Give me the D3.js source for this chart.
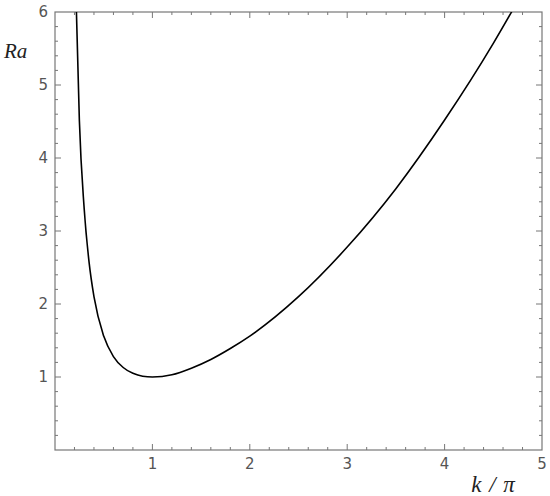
<!DOCTYPE html>
<html>
<head>
<meta charset="utf-8">
<script src="https://cdn.jsdelivr.net/npm/d3@7"></script>
<style>
  body { margin: 0; background: #fff; }
  .tick-label { font-family: "DejaVu Sans", sans-serif; font-size: 15px; fill: #555; }
  .axis-title { font-family: "Liberation Serif", "DejaVu Serif", serif; font-style: italic; font-size: 21px; fill: #222; }
</style>
</head>
<body>
<div id="chart"></div>
<script>
// Values
var kValues  = [0.22, 0.25, 0.3, 0.35, 0.4, 0.5, 0.6, 0.7, 0.8, 0.9, 1.0, 1.2, 1.4, 1.6, 1.8, 2.0, 2.5, 3.0, 3.5, 4.0, 4.5, 4.7];
var raValues = [6.0, 4.52, 3.30, 2.57, 2.10, 1.56, 1.28, 1.13, 1.05, 1.01, 1.0, 1.03, 1.12, 1.24, 1.39, 1.56, 2.10, 2.78, 3.58, 4.52, 5.57, 6.03];
var xTicks = [1, 2, 3, 4, 5];
var yTicks = [1, 2, 3, 4, 5, 6];

var width = 550, height = 496;
var margin = {top: 12, right: 8, bottom: 46, left: 55};

var svg = d3.select("#chart").append("svg")
    .attr("width", width)
    .attr("height", height);

var x = d3.scaleLinear().domain([0, 5]).range([margin.left, width - margin.right]);
var y = d3.scaleLinear().domain([0, 6]).range([height - margin.bottom, margin.top]);

// minor + major ticks, drawn inward on all four sides
var minor = d3.range(0, 30.5).map(function(i) { return i * 0.2; });
var frameColor = "#777";
var ticksG = svg.append("g").attr("stroke", frameColor).attr("stroke-width", 1);

function isMajor(v) { return Math.abs(v - Math.round(v)) < 1e-6; }

minor.filter(function(v) { return v > 0 && v < 5; }).forEach(function(v) {
    var len = isMajor(v) ? 6 : 3;
    ticksG.append("line").attr("x1", x(v)).attr("x2", x(v))
        .attr("y1", y(0)).attr("y2", y(0) - len);
    ticksG.append("line").attr("x1", x(v)).attr("x2", x(v))
        .attr("y1", y(6)).attr("y2", y(6) + len);
});
minor.filter(function(v) { return v > 0 && v < 6; }).forEach(function(v) {
    var len = isMajor(v) ? 6 : 3;
    ticksG.append("line").attr("y1", y(v)).attr("y2", y(v))
        .attr("x1", x(0)).attr("x2", x(0) + len);
    ticksG.append("line").attr("y1", y(v)).attr("y2", y(v))
        .attr("x1", x(5)).attr("x2", x(5) - len);
});

// frame
svg.append("rect")
    .attr("x", x(0)).attr("y", y(6))
    .attr("width", x(5) - x(0)).attr("height", y(0) - y(6))
    .attr("fill", "none").attr("stroke", frameColor).attr("stroke-width", 1.2);

// tick labels
svg.selectAll(".xlab").data(xTicks).enter().append("text")
    .attr("class", "tick-label")
    .attr("x", function(d) { return x(d); })
    .attr("y", y(0) + 19)
    .attr("text-anchor", "middle")
    .text(function(d) { return d; });

svg.selectAll(".ylab").data(yTicks).enter().append("text")
    .attr("class", "tick-label")
    .attr("x", x(0) - 7)
    .attr("y", function(d) { return y(d) + 5; })
    .attr("text-anchor", "end")
    .text(function(d) { return d; });

// axis titles
svg.append("text").attr("class", "axis-title")
    .attr("x", 4).attr("y", 58)
    .text("Ra");

svg.append("text").attr("class", "axis-title")
    .attr("x", 493).attr("y", 492)
    .attr("text-anchor", "middle")
    .style("font-size", "23px")
    .style("word-spacing", "2px")
    .text("k / π");

// curve
svg.append("clipPath").attr("id", "plotclip")
    .append("rect")
    .attr("x", x(0)).attr("y", y(6))
    .attr("width", x(5) - x(0)).attr("height", y(0) - y(6));

var line = d3.line()
    .curve(d3.curveMonotoneX)
    .x(function(d, i) { return x(kValues[i]); })
    .y(function(d) { return y(d); });

svg.append("path")
    .datum(raValues)
    .attr("clip-path", "url(#plotclip)")
    .attr("fill", "none")
    .attr("stroke", "#000")
    .attr("stroke-width", 1.6)
    .attr("d", line);
</script>
</body>
</html>
